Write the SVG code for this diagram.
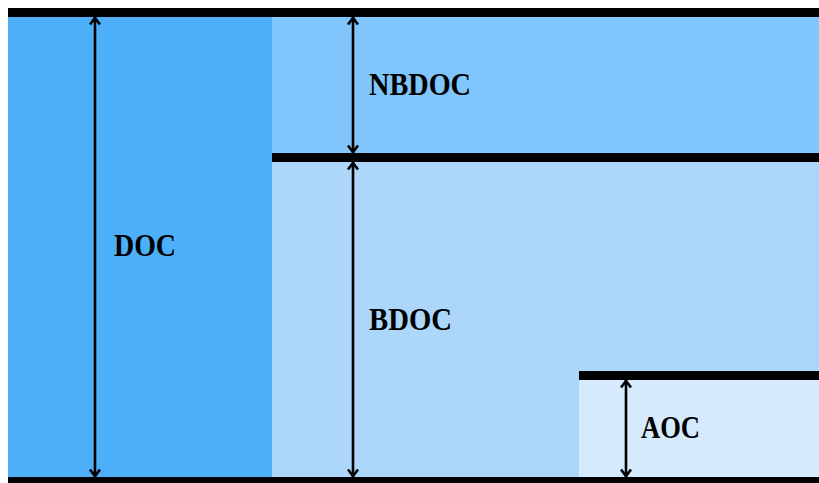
<svg xmlns="http://www.w3.org/2000/svg" width="819" height="483" viewBox="0 0 819 483">
  <defs>
    <marker id="head" markerUnits="userSpaceOnUse" markerWidth="12" markerHeight="14" viewBox="-10 -7 12 14" refX="0" refY="0" orient="auto-start-reverse">
      <path d="M -7.5 -5 L -1 0 L -7.5 5" fill="none" stroke="#000" stroke-width="2.6" stroke-linejoin="miter"/>
    </marker>
  </defs>
  <style>
    .bar { fill: #000; }
    .dim { stroke: #000; stroke-width: 2.6; fill: none; marker-start: url(#head); marker-end: url(#head); }
    .lbl { font-family: "Liberation Serif", "DejaVu Serif", serif; font-weight: bold; font-size: 32px; fill: #000; }
  </style>
  <rect width="819" height="483" fill="#fff"/>

  <g id="doc">
    <rect x="8" y="17" width="264" height="460" fill="#4EAFF9"/>
  </g>
  <g id="nbdoc">
    <rect x="272" y="17" width="547" height="136" fill="#80C5FB"/>
  </g>
  <g id="bdoc">
    <rect x="272" y="162" width="547" height="315" fill="#ACD7FA"/>
  </g>
  <g id="aoc">
    <rect x="579" y="380" width="240" height="97" fill="#D5EAFC"/>
  </g>

  <g id="levels">
    <rect class="bar" x="8" y="8" width="811" height="9"/>
    <rect class="bar" x="272" y="153" width="547" height="9"/>
    <rect class="bar" x="579" y="371" width="240" height="9"/>
    <rect class="bar" x="8" y="477" width="811" height="6"/>
  </g>

  <g id="connectors">
    <path class="dim" d="M 95 17 L 95 477"/>
    <path class="dim" d="M 353 17 L 353 153"/>
    <path class="dim" d="M 353 162 L 353 477"/>
    <path class="dim" d="M 626 380 L 626 477"/>
  </g>

  <g id="labels">
    <text class="lbl" x="114" y="256" textLength="62" lengthAdjust="spacingAndGlyphs">DOC</text>
    <text class="lbl" x="369" y="95" textLength="102" lengthAdjust="spacingAndGlyphs">NBDOC</text>
    <text class="lbl" x="369" y="330" textLength="83" lengthAdjust="spacingAndGlyphs">BDOC</text>
    <text class="lbl" x="641" y="438" textLength="59" lengthAdjust="spacingAndGlyphs">AOC</text>
  </g>
</svg>
